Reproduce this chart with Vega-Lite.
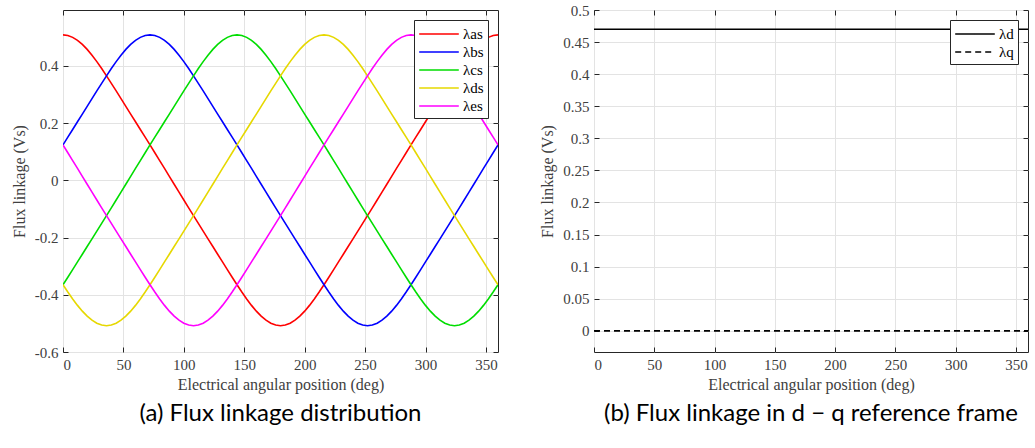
{
"$schema":"https://vega.github.io/schema/vega-lite/v6.json",
"background":"white",
"padding":{"left":10,"top":2,"right":0,"bottom":5},
"datasets":{
"phase":[
{"deg":0,"ph":"λas","flux":0.508},{"deg":4,"ph":"λas","flux":0.5058},{"deg":8,"ph":"λas","flux":0.4994},{"deg":12,"ph":"λas","flux":0.4889},{"deg":16,"ph":"λas","flux":0.4747},{"deg":20,"ph":"λas","flux":0.4573},{"deg":24,"ph":"λas","flux":0.4371},{"deg":28,"ph":"λas","flux":0.4146},{"deg":32,"ph":"λas","flux":0.3904},{"deg":36,"ph":"λas","flux":0.365},{"deg":40,"ph":"λas","flux":0.3388},{"deg":44,"ph":"λas","flux":0.3122},{"deg":48,"ph":"λas","flux":0.2853},{"deg":52,"ph":"λas","flux":0.2583},{"deg":56,"ph":"λas","flux":0.2314},{"deg":60,"ph":"λas","flux":0.2045},{"deg":64,"ph":"λas","flux":0.1776},{"deg":68,"ph":"λas","flux":0.1506},{"deg":72,"ph":"λas","flux":0.1235},{"deg":76,"ph":"λas","flux":0.0963},{"deg":80,"ph":"λas","flux":0.0689},{"deg":84,"ph":"λas","flux":0.0414},{"deg":88,"ph":"λas","flux":0.0138},{"deg":92,"ph":"λas","flux":-0.0138},{"deg":96,"ph":"λas","flux":-0.0414},{"deg":100,"ph":"λas","flux":-0.0689},{"deg":104,"ph":"λas","flux":-0.0963},{"deg":108,"ph":"λas","flux":-0.1235},{"deg":112,"ph":"λas","flux":-0.1506},{"deg":116,"ph":"λas","flux":-0.1776},{"deg":120,"ph":"λas","flux":-0.2045},{"deg":124,"ph":"λas","flux":-0.2314},{"deg":128,"ph":"λas","flux":-0.2583},{"deg":132,"ph":"λas","flux":-0.2853},{"deg":136,"ph":"λas","flux":-0.3122},{"deg":140,"ph":"λas","flux":-0.3388},{"deg":144,"ph":"λas","flux":-0.365},{"deg":148,"ph":"λas","flux":-0.3904},{"deg":152,"ph":"λas","flux":-0.4146},{"deg":156,"ph":"λas","flux":-0.4371},{"deg":160,"ph":"λas","flux":-0.4573},{"deg":164,"ph":"λas","flux":-0.4747},{"deg":168,"ph":"λas","flux":-0.4889},{"deg":172,"ph":"λas","flux":-0.4994},{"deg":176,"ph":"λas","flux":-0.5058},{"deg":180,"ph":"λas","flux":-0.508},{"deg":184,"ph":"λas","flux":-0.5058},{"deg":188,"ph":"λas","flux":-0.4994},{"deg":192,"ph":"λas","flux":-0.4889},{"deg":196,"ph":"λas","flux":-0.4747},{"deg":200,"ph":"λas","flux":-0.4573},{"deg":204,"ph":"λas","flux":-0.4371},{"deg":208,"ph":"λas","flux":-0.4146},{"deg":212,"ph":"λas","flux":-0.3904},{"deg":216,"ph":"λas","flux":-0.365},{"deg":220,"ph":"λas","flux":-0.3388},{"deg":224,"ph":"λas","flux":-0.3122},{"deg":228,"ph":"λas","flux":-0.2853},{"deg":232,"ph":"λas","flux":-0.2583},{"deg":236,"ph":"λas","flux":-0.2314},{"deg":240,"ph":"λas","flux":-0.2045},{"deg":244,"ph":"λas","flux":-0.1776},{"deg":248,"ph":"λas","flux":-0.1506},{"deg":252,"ph":"λas","flux":-0.1235},{"deg":256,"ph":"λas","flux":-0.0963},{"deg":260,"ph":"λas","flux":-0.0689},{"deg":264,"ph":"λas","flux":-0.0414},{"deg":268,"ph":"λas","flux":-0.0138},{"deg":272,"ph":"λas","flux":0.0138},{"deg":276,"ph":"λas","flux":0.0414},{"deg":280,"ph":"λas","flux":0.0689},{"deg":284,"ph":"λas","flux":0.0963},{"deg":288,"ph":"λas","flux":0.1235},{"deg":292,"ph":"λas","flux":0.1506},{"deg":296,"ph":"λas","flux":0.1776},{"deg":300,"ph":"λas","flux":0.2045},{"deg":304,"ph":"λas","flux":0.2314},{"deg":308,"ph":"λas","flux":0.2583},{"deg":312,"ph":"λas","flux":0.2853},{"deg":316,"ph":"λas","flux":0.3122},{"deg":320,"ph":"λas","flux":0.3388},{"deg":324,"ph":"λas","flux":0.365},{"deg":328,"ph":"λas","flux":0.3904},{"deg":332,"ph":"λas","flux":0.4146},{"deg":336,"ph":"λas","flux":0.4371},{"deg":340,"ph":"λas","flux":0.4573},{"deg":344,"ph":"λas","flux":0.4747},{"deg":348,"ph":"λas","flux":0.4889},{"deg":352,"ph":"λas","flux":0.4994},{"deg":356,"ph":"λas","flux":0.5058},{"deg":360,"ph":"λas","flux":0.508},
{"deg":0,"ph":"λbs","flux":0.1235},{"deg":4,"ph":"λbs","flux":0.1506},{"deg":8,"ph":"λbs","flux":0.1776},{"deg":12,"ph":"λbs","flux":0.2045},{"deg":16,"ph":"λbs","flux":0.2314},{"deg":20,"ph":"λbs","flux":0.2583},{"deg":24,"ph":"λbs","flux":0.2853},{"deg":28,"ph":"λbs","flux":0.3122},{"deg":32,"ph":"λbs","flux":0.3388},{"deg":36,"ph":"λbs","flux":0.365},{"deg":40,"ph":"λbs","flux":0.3904},{"deg":44,"ph":"λbs","flux":0.4146},{"deg":48,"ph":"λbs","flux":0.4371},{"deg":52,"ph":"λbs","flux":0.4573},{"deg":56,"ph":"λbs","flux":0.4747},{"deg":60,"ph":"λbs","flux":0.4889},{"deg":64,"ph":"λbs","flux":0.4994},{"deg":68,"ph":"λbs","flux":0.5058},{"deg":72,"ph":"λbs","flux":0.508},{"deg":76,"ph":"λbs","flux":0.5058},{"deg":80,"ph":"λbs","flux":0.4994},{"deg":84,"ph":"λbs","flux":0.4889},{"deg":88,"ph":"λbs","flux":0.4747},{"deg":92,"ph":"λbs","flux":0.4573},{"deg":96,"ph":"λbs","flux":0.4371},{"deg":100,"ph":"λbs","flux":0.4146},{"deg":104,"ph":"λbs","flux":0.3904},{"deg":108,"ph":"λbs","flux":0.365},{"deg":112,"ph":"λbs","flux":0.3388},{"deg":116,"ph":"λbs","flux":0.3122},{"deg":120,"ph":"λbs","flux":0.2853},{"deg":124,"ph":"λbs","flux":0.2583},{"deg":128,"ph":"λbs","flux":0.2314},{"deg":132,"ph":"λbs","flux":0.2045},{"deg":136,"ph":"λbs","flux":0.1776},{"deg":140,"ph":"λbs","flux":0.1506},{"deg":144,"ph":"λbs","flux":0.1235},{"deg":148,"ph":"λbs","flux":0.0963},{"deg":152,"ph":"λbs","flux":0.0689},{"deg":156,"ph":"λbs","flux":0.0414},{"deg":160,"ph":"λbs","flux":0.0138},{"deg":164,"ph":"λbs","flux":-0.0138},{"deg":168,"ph":"λbs","flux":-0.0414},{"deg":172,"ph":"λbs","flux":-0.0689},{"deg":176,"ph":"λbs","flux":-0.0963},{"deg":180,"ph":"λbs","flux":-0.1235},{"deg":184,"ph":"λbs","flux":-0.1506},{"deg":188,"ph":"λbs","flux":-0.1776},{"deg":192,"ph":"λbs","flux":-0.2045},{"deg":196,"ph":"λbs","flux":-0.2314},{"deg":200,"ph":"λbs","flux":-0.2583},{"deg":204,"ph":"λbs","flux":-0.2853},{"deg":208,"ph":"λbs","flux":-0.3122},{"deg":212,"ph":"λbs","flux":-0.3388},{"deg":216,"ph":"λbs","flux":-0.365},{"deg":220,"ph":"λbs","flux":-0.3904},{"deg":224,"ph":"λbs","flux":-0.4146},{"deg":228,"ph":"λbs","flux":-0.4371},{"deg":232,"ph":"λbs","flux":-0.4573},{"deg":236,"ph":"λbs","flux":-0.4747},{"deg":240,"ph":"λbs","flux":-0.4889},{"deg":244,"ph":"λbs","flux":-0.4994},{"deg":248,"ph":"λbs","flux":-0.5058},{"deg":252,"ph":"λbs","flux":-0.508},{"deg":256,"ph":"λbs","flux":-0.5058},{"deg":260,"ph":"λbs","flux":-0.4994},{"deg":264,"ph":"λbs","flux":-0.4889},{"deg":268,"ph":"λbs","flux":-0.4747},{"deg":272,"ph":"λbs","flux":-0.4573},{"deg":276,"ph":"λbs","flux":-0.4371},{"deg":280,"ph":"λbs","flux":-0.4146},{"deg":284,"ph":"λbs","flux":-0.3904},{"deg":288,"ph":"λbs","flux":-0.365},{"deg":292,"ph":"λbs","flux":-0.3388},{"deg":296,"ph":"λbs","flux":-0.3122},{"deg":300,"ph":"λbs","flux":-0.2853},{"deg":304,"ph":"λbs","flux":-0.2583},{"deg":308,"ph":"λbs","flux":-0.2314},{"deg":312,"ph":"λbs","flux":-0.2045},{"deg":316,"ph":"λbs","flux":-0.1776},{"deg":320,"ph":"λbs","flux":-0.1506},{"deg":324,"ph":"λbs","flux":-0.1235},{"deg":328,"ph":"λbs","flux":-0.0963},{"deg":332,"ph":"λbs","flux":-0.0689},{"deg":336,"ph":"λbs","flux":-0.0414},{"deg":340,"ph":"λbs","flux":-0.0138},{"deg":344,"ph":"λbs","flux":0.0138},{"deg":348,"ph":"λbs","flux":0.0414},{"deg":352,"ph":"λbs","flux":0.0689},{"deg":356,"ph":"λbs","flux":0.0963},{"deg":360,"ph":"λbs","flux":0.1235},
{"deg":0,"ph":"λcs","flux":-0.365},{"deg":4,"ph":"λcs","flux":-0.3388},{"deg":8,"ph":"λcs","flux":-0.3122},{"deg":12,"ph":"λcs","flux":-0.2853},{"deg":16,"ph":"λcs","flux":-0.2583},{"deg":20,"ph":"λcs","flux":-0.2314},{"deg":24,"ph":"λcs","flux":-0.2045},{"deg":28,"ph":"λcs","flux":-0.1776},{"deg":32,"ph":"λcs","flux":-0.1506},{"deg":36,"ph":"λcs","flux":-0.1235},{"deg":40,"ph":"λcs","flux":-0.0963},{"deg":44,"ph":"λcs","flux":-0.0689},{"deg":48,"ph":"λcs","flux":-0.0414},{"deg":52,"ph":"λcs","flux":-0.0138},{"deg":56,"ph":"λcs","flux":0.0138},{"deg":60,"ph":"λcs","flux":0.0414},{"deg":64,"ph":"λcs","flux":0.0689},{"deg":68,"ph":"λcs","flux":0.0963},{"deg":72,"ph":"λcs","flux":0.1235},{"deg":76,"ph":"λcs","flux":0.1506},{"deg":80,"ph":"λcs","flux":0.1776},{"deg":84,"ph":"λcs","flux":0.2045},{"deg":88,"ph":"λcs","flux":0.2314},{"deg":92,"ph":"λcs","flux":0.2583},{"deg":96,"ph":"λcs","flux":0.2853},{"deg":100,"ph":"λcs","flux":0.3122},{"deg":104,"ph":"λcs","flux":0.3388},{"deg":108,"ph":"λcs","flux":0.365},{"deg":112,"ph":"λcs","flux":0.3904},{"deg":116,"ph":"λcs","flux":0.4146},{"deg":120,"ph":"λcs","flux":0.4371},{"deg":124,"ph":"λcs","flux":0.4573},{"deg":128,"ph":"λcs","flux":0.4747},{"deg":132,"ph":"λcs","flux":0.4889},{"deg":136,"ph":"λcs","flux":0.4994},{"deg":140,"ph":"λcs","flux":0.5058},{"deg":144,"ph":"λcs","flux":0.508},{"deg":148,"ph":"λcs","flux":0.5058},{"deg":152,"ph":"λcs","flux":0.4994},{"deg":156,"ph":"λcs","flux":0.4889},{"deg":160,"ph":"λcs","flux":0.4747},{"deg":164,"ph":"λcs","flux":0.4573},{"deg":168,"ph":"λcs","flux":0.4371},{"deg":172,"ph":"λcs","flux":0.4146},{"deg":176,"ph":"λcs","flux":0.3904},{"deg":180,"ph":"λcs","flux":0.365},{"deg":184,"ph":"λcs","flux":0.3388},{"deg":188,"ph":"λcs","flux":0.3122},{"deg":192,"ph":"λcs","flux":0.2853},{"deg":196,"ph":"λcs","flux":0.2583},{"deg":200,"ph":"λcs","flux":0.2314},{"deg":204,"ph":"λcs","flux":0.2045},{"deg":208,"ph":"λcs","flux":0.1776},{"deg":212,"ph":"λcs","flux":0.1506},{"deg":216,"ph":"λcs","flux":0.1235},{"deg":220,"ph":"λcs","flux":0.0963},{"deg":224,"ph":"λcs","flux":0.0689},{"deg":228,"ph":"λcs","flux":0.0414},{"deg":232,"ph":"λcs","flux":0.0138},{"deg":236,"ph":"λcs","flux":-0.0138},{"deg":240,"ph":"λcs","flux":-0.0414},{"deg":244,"ph":"λcs","flux":-0.0689},{"deg":248,"ph":"λcs","flux":-0.0963},{"deg":252,"ph":"λcs","flux":-0.1235},{"deg":256,"ph":"λcs","flux":-0.1506},{"deg":260,"ph":"λcs","flux":-0.1776},{"deg":264,"ph":"λcs","flux":-0.2045},{"deg":268,"ph":"λcs","flux":-0.2314},{"deg":272,"ph":"λcs","flux":-0.2583},{"deg":276,"ph":"λcs","flux":-0.2853},{"deg":280,"ph":"λcs","flux":-0.3122},{"deg":284,"ph":"λcs","flux":-0.3388},{"deg":288,"ph":"λcs","flux":-0.365},{"deg":292,"ph":"λcs","flux":-0.3904},{"deg":296,"ph":"λcs","flux":-0.4146},{"deg":300,"ph":"λcs","flux":-0.4371},{"deg":304,"ph":"λcs","flux":-0.4573},{"deg":308,"ph":"λcs","flux":-0.4747},{"deg":312,"ph":"λcs","flux":-0.4889},{"deg":316,"ph":"λcs","flux":-0.4994},{"deg":320,"ph":"λcs","flux":-0.5058},{"deg":324,"ph":"λcs","flux":-0.508},{"deg":328,"ph":"λcs","flux":-0.5058},{"deg":332,"ph":"λcs","flux":-0.4994},{"deg":336,"ph":"λcs","flux":-0.4889},{"deg":340,"ph":"λcs","flux":-0.4747},{"deg":344,"ph":"λcs","flux":-0.4573},{"deg":348,"ph":"λcs","flux":-0.4371},{"deg":352,"ph":"λcs","flux":-0.4146},{"deg":356,"ph":"λcs","flux":-0.3904},{"deg":360,"ph":"λcs","flux":-0.365},
{"deg":0,"ph":"λds","flux":-0.365},{"deg":4,"ph":"λds","flux":-0.3904},{"deg":8,"ph":"λds","flux":-0.4146},{"deg":12,"ph":"λds","flux":-0.4371},{"deg":16,"ph":"λds","flux":-0.4573},{"deg":20,"ph":"λds","flux":-0.4747},{"deg":24,"ph":"λds","flux":-0.4889},{"deg":28,"ph":"λds","flux":-0.4994},{"deg":32,"ph":"λds","flux":-0.5058},{"deg":36,"ph":"λds","flux":-0.508},{"deg":40,"ph":"λds","flux":-0.5058},{"deg":44,"ph":"λds","flux":-0.4994},{"deg":48,"ph":"λds","flux":-0.4889},{"deg":52,"ph":"λds","flux":-0.4747},{"deg":56,"ph":"λds","flux":-0.4573},{"deg":60,"ph":"λds","flux":-0.4371},{"deg":64,"ph":"λds","flux":-0.4146},{"deg":68,"ph":"λds","flux":-0.3904},{"deg":72,"ph":"λds","flux":-0.365},{"deg":76,"ph":"λds","flux":-0.3388},{"deg":80,"ph":"λds","flux":-0.3122},{"deg":84,"ph":"λds","flux":-0.2853},{"deg":88,"ph":"λds","flux":-0.2583},{"deg":92,"ph":"λds","flux":-0.2314},{"deg":96,"ph":"λds","flux":-0.2045},{"deg":100,"ph":"λds","flux":-0.1776},{"deg":104,"ph":"λds","flux":-0.1506},{"deg":108,"ph":"λds","flux":-0.1235},{"deg":112,"ph":"λds","flux":-0.0963},{"deg":116,"ph":"λds","flux":-0.0689},{"deg":120,"ph":"λds","flux":-0.0414},{"deg":124,"ph":"λds","flux":-0.0138},{"deg":128,"ph":"λds","flux":0.0138},{"deg":132,"ph":"λds","flux":0.0414},{"deg":136,"ph":"λds","flux":0.0689},{"deg":140,"ph":"λds","flux":0.0963},{"deg":144,"ph":"λds","flux":0.1235},{"deg":148,"ph":"λds","flux":0.1506},{"deg":152,"ph":"λds","flux":0.1776},{"deg":156,"ph":"λds","flux":0.2045},{"deg":160,"ph":"λds","flux":0.2314},{"deg":164,"ph":"λds","flux":0.2583},{"deg":168,"ph":"λds","flux":0.2853},{"deg":172,"ph":"λds","flux":0.3122},{"deg":176,"ph":"λds","flux":0.3388},{"deg":180,"ph":"λds","flux":0.365},{"deg":184,"ph":"λds","flux":0.3904},{"deg":188,"ph":"λds","flux":0.4146},{"deg":192,"ph":"λds","flux":0.4371},{"deg":196,"ph":"λds","flux":0.4573},{"deg":200,"ph":"λds","flux":0.4747},{"deg":204,"ph":"λds","flux":0.4889},{"deg":208,"ph":"λds","flux":0.4994},{"deg":212,"ph":"λds","flux":0.5058},{"deg":216,"ph":"λds","flux":0.508},{"deg":220,"ph":"λds","flux":0.5058},{"deg":224,"ph":"λds","flux":0.4994},{"deg":228,"ph":"λds","flux":0.4889},{"deg":232,"ph":"λds","flux":0.4747},{"deg":236,"ph":"λds","flux":0.4573},{"deg":240,"ph":"λds","flux":0.4371},{"deg":244,"ph":"λds","flux":0.4146},{"deg":248,"ph":"λds","flux":0.3904},{"deg":252,"ph":"λds","flux":0.365},{"deg":256,"ph":"λds","flux":0.3388},{"deg":260,"ph":"λds","flux":0.3122},{"deg":264,"ph":"λds","flux":0.2853},{"deg":268,"ph":"λds","flux":0.2583},{"deg":272,"ph":"λds","flux":0.2314},{"deg":276,"ph":"λds","flux":0.2045},{"deg":280,"ph":"λds","flux":0.1776},{"deg":284,"ph":"λds","flux":0.1506},{"deg":288,"ph":"λds","flux":0.1235},{"deg":292,"ph":"λds","flux":0.0963},{"deg":296,"ph":"λds","flux":0.0689},{"deg":300,"ph":"λds","flux":0.0414},{"deg":304,"ph":"λds","flux":0.0138},{"deg":308,"ph":"λds","flux":-0.0138},{"deg":312,"ph":"λds","flux":-0.0414},{"deg":316,"ph":"λds","flux":-0.0689},{"deg":320,"ph":"λds","flux":-0.0963},{"deg":324,"ph":"λds","flux":-0.1235},{"deg":328,"ph":"λds","flux":-0.1506},{"deg":332,"ph":"λds","flux":-0.1776},{"deg":336,"ph":"λds","flux":-0.2045},{"deg":340,"ph":"λds","flux":-0.2314},{"deg":344,"ph":"λds","flux":-0.2583},{"deg":348,"ph":"λds","flux":-0.2853},{"deg":352,"ph":"λds","flux":-0.3122},{"deg":356,"ph":"λds","flux":-0.3388},{"deg":360,"ph":"λds","flux":-0.365},
{"deg":0,"ph":"λes","flux":0.1235},{"deg":4,"ph":"λes","flux":0.0963},{"deg":8,"ph":"λes","flux":0.0689},{"deg":12,"ph":"λes","flux":0.0414},{"deg":16,"ph":"λes","flux":0.0138},{"deg":20,"ph":"λes","flux":-0.0138},{"deg":24,"ph":"λes","flux":-0.0414},{"deg":28,"ph":"λes","flux":-0.0689},{"deg":32,"ph":"λes","flux":-0.0963},{"deg":36,"ph":"λes","flux":-0.1235},{"deg":40,"ph":"λes","flux":-0.1506},{"deg":44,"ph":"λes","flux":-0.1776},{"deg":48,"ph":"λes","flux":-0.2045},{"deg":52,"ph":"λes","flux":-0.2314},{"deg":56,"ph":"λes","flux":-0.2583},{"deg":60,"ph":"λes","flux":-0.2853},{"deg":64,"ph":"λes","flux":-0.3122},{"deg":68,"ph":"λes","flux":-0.3388},{"deg":72,"ph":"λes","flux":-0.365},{"deg":76,"ph":"λes","flux":-0.3904},{"deg":80,"ph":"λes","flux":-0.4146},{"deg":84,"ph":"λes","flux":-0.4371},{"deg":88,"ph":"λes","flux":-0.4573},{"deg":92,"ph":"λes","flux":-0.4747},{"deg":96,"ph":"λes","flux":-0.4889},{"deg":100,"ph":"λes","flux":-0.4994},{"deg":104,"ph":"λes","flux":-0.5058},{"deg":108,"ph":"λes","flux":-0.508},{"deg":112,"ph":"λes","flux":-0.5058},{"deg":116,"ph":"λes","flux":-0.4994},{"deg":120,"ph":"λes","flux":-0.4889},{"deg":124,"ph":"λes","flux":-0.4747},{"deg":128,"ph":"λes","flux":-0.4573},{"deg":132,"ph":"λes","flux":-0.4371},{"deg":136,"ph":"λes","flux":-0.4146},{"deg":140,"ph":"λes","flux":-0.3904},{"deg":144,"ph":"λes","flux":-0.365},{"deg":148,"ph":"λes","flux":-0.3388},{"deg":152,"ph":"λes","flux":-0.3122},{"deg":156,"ph":"λes","flux":-0.2853},{"deg":160,"ph":"λes","flux":-0.2583},{"deg":164,"ph":"λes","flux":-0.2314},{"deg":168,"ph":"λes","flux":-0.2045},{"deg":172,"ph":"λes","flux":-0.1776},{"deg":176,"ph":"λes","flux":-0.1506},{"deg":180,"ph":"λes","flux":-0.1235},{"deg":184,"ph":"λes","flux":-0.0963},{"deg":188,"ph":"λes","flux":-0.0689},{"deg":192,"ph":"λes","flux":-0.0414},{"deg":196,"ph":"λes","flux":-0.0138},{"deg":200,"ph":"λes","flux":0.0138},{"deg":204,"ph":"λes","flux":0.0414},{"deg":208,"ph":"λes","flux":0.0689},{"deg":212,"ph":"λes","flux":0.0963},{"deg":216,"ph":"λes","flux":0.1235},{"deg":220,"ph":"λes","flux":0.1506},{"deg":224,"ph":"λes","flux":0.1776},{"deg":228,"ph":"λes","flux":0.2045},{"deg":232,"ph":"λes","flux":0.2314},{"deg":236,"ph":"λes","flux":0.2583},{"deg":240,"ph":"λes","flux":0.2853},{"deg":244,"ph":"λes","flux":0.3122},{"deg":248,"ph":"λes","flux":0.3388},{"deg":252,"ph":"λes","flux":0.365},{"deg":256,"ph":"λes","flux":0.3904},{"deg":260,"ph":"λes","flux":0.4146},{"deg":264,"ph":"λes","flux":0.4371},{"deg":268,"ph":"λes","flux":0.4573},{"deg":272,"ph":"λes","flux":0.4747},{"deg":276,"ph":"λes","flux":0.4889},{"deg":280,"ph":"λes","flux":0.4994},{"deg":284,"ph":"λes","flux":0.5058},{"deg":288,"ph":"λes","flux":0.508},{"deg":292,"ph":"λes","flux":0.5058},{"deg":296,"ph":"λes","flux":0.4994},{"deg":300,"ph":"λes","flux":0.4889},{"deg":304,"ph":"λes","flux":0.4747},{"deg":308,"ph":"λes","flux":0.4573},{"deg":312,"ph":"λes","flux":0.4371},{"deg":316,"ph":"λes","flux":0.4146},{"deg":320,"ph":"λes","flux":0.3904},{"deg":324,"ph":"λes","flux":0.365},{"deg":328,"ph":"λes","flux":0.3388},{"deg":332,"ph":"λes","flux":0.3122},{"deg":336,"ph":"λes","flux":0.2853},{"deg":340,"ph":"λes","flux":0.2583},{"deg":344,"ph":"λes","flux":0.2314},{"deg":348,"ph":"λes","flux":0.2045},{"deg":352,"ph":"λes","flux":0.1776},{"deg":356,"ph":"λes","flux":0.1506},{"deg":360,"ph":"λes","flux":0.1235}
],
"dq":[
{"deg":0,"comp":"λd","flux":0.47},{"deg":30,"comp":"λd","flux":0.47},{"deg":60,"comp":"λd","flux":0.47},{"deg":90,"comp":"λd","flux":0.47},{"deg":120,"comp":"λd","flux":0.47},{"deg":150,"comp":"λd","flux":0.47},{"deg":180,"comp":"λd","flux":0.47},{"deg":210,"comp":"λd","flux":0.47},{"deg":240,"comp":"λd","flux":0.47},{"deg":270,"comp":"λd","flux":0.47},{"deg":300,"comp":"λd","flux":0.47},{"deg":330,"comp":"λd","flux":0.47},{"deg":360,"comp":"λd","flux":0.47},
{"deg":0,"comp":"λq","flux":0},{"deg":90,"comp":"λq","flux":0},{"deg":180,"comp":"λq","flux":0},{"deg":270,"comp":"λq","flux":0},{"deg":360,"comp":"λq","flux":0}
]
},
"config":{
"font":"Liberation Serif",
"view":{"stroke":"#262626","strokeWidth":1},
"axis":{"labelFont":"Liberation Serif","labelFontSize":15,"labelColor":"#404040","titleFont":"Liberation Serif","titleFontSize":16,"titleFontWeight":"normal","titleColor":"#404040","domain":false,"ticks":true,"tickSize":-5,"tickColor":"#262626","labelPadding":10,"gridColor":"#e3e3e3","gridWidth":1,"titlePadding":4},
"axisY":{"titlePadding":7},
"legend":{"orient":"top-right","offset":10,"fillColor":"white","strokeColor":"#262626","padding":4,"labelFont":"Liberation Serif","labelFontSize":15,"labelColor":"#000","symbolType":"M-2.2,0H2.2","symbolSize":324,"symbolOffset":11,"symbolStrokeWidth":1.6,"rowPadding":0,"labelOffset":14},
"title":{"orient":"bottom","font":"Lato","fontSize":24,"fontWeight":"normal","color":"#000","offset":10,"anchor":"middle"}
},
"spacing":37,
"resolve":{"scale":{"color":"independent","strokeDash":"independent","y":"independent"},"legend":{"color":"independent","strokeDash":"independent"}},
"hconcat":[
{"width":435,"height":342,"data":{"name":"phase"},
"title":{"text":"(a) Flux linkage distribution"},
"resolve":{"axis":{"x":"independent","y":"independent"}},
"layer":[
{"mark":{"type":"line","strokeWidth":1.6,"clip":true},
"encoding":{
"x":{"field":"deg","type":"quantitative","scale":{"domain":[0,360],"nice":false},"axis":{"values":[0,50,100,150,200,250,300,350],"title":"Electrical angular position (deg)","labelFont":"Liberation Serif"}},
"y":{"field":"flux","type":"quantitative","scale":{"domain":[-0.6,0.595],"nice":false,"zero":false},"axis":{"values":[-0.6,-0.4,-0.2,0,0.2,0.4],"title":"Flux linkage (Vs)","labelFont":"Liberation Serif","labelExpr":"replace(format(datum.value,'~g'),'−','-')"}},
"color":{"field":"ph","type":"nominal","scale":{"domain":["λas","λbs","λcs","λds","λes"],"range":["#ff0000","#0000ff","#00dd00","#e6d800","#ff00ff"]},"legend":{"title":null}}
}},
{"mark":{"type":"point","opacity":0},
"encoding":{
"x":{"field":"deg","type":"quantitative","axis":{"orient":"top","values":[0,50,100,150,200,250,300,350],"labels":false,"grid":false,"title":null}},
"y":{"field":"flux","type":"quantitative","axis":{"orient":"right","values":[-0.6,-0.4,-0.2,0,0.2,0.4],"labels":false,"grid":false,"title":null}}
}}
]},
{"width":434,"height":342,"data":{"name":"dq"},
"title":{"text":"(b) Flux linkage in d − q reference frame"},
"resolve":{"axis":{"x":"independent","y":"independent"}},
"layer":[
{"mark":{"type":"line","strokeWidth":1.6,"clip":true},
"encoding":{
"x":{"field":"deg","type":"quantitative","scale":{"domain":[0,360],"nice":false},"axis":{"values":[0,50,100,150,200,250,300,350],"title":"Electrical angular position (deg)","labelFont":"Liberation Serif"}},
"y":{"field":"flux","type":"quantitative","scale":{"domain":[-0.033,0.5],"nice":false,"zero":false},"axis":{"values":[0,0.05,0.1,0.15,0.2,0.25,0.3,0.35,0.4,0.45,0.5],"title":"Flux linkage (Vs)","labelFont":"Liberation Serif","labelExpr":"format(datum.value,'~g')"}},
"color":{"field":"comp","type":"nominal","scale":{"domain":["λd","λq"],"range":["#000000","#000000"]},"legend":{"title":null}},
"strokeDash":{"field":"comp","type":"nominal","scale":{"domain":["λd","λq"],"range":[[1,0],[6,4]]},"legend":{"title":null}}
}},
{"mark":{"type":"point","opacity":0},
"encoding":{
"x":{"field":"deg","type":"quantitative","axis":{"orient":"top","values":[0,50,100,150,200,250,300,350],"labels":false,"grid":false,"title":null}},
"y":{"field":"flux","type":"quantitative","axis":{"orient":"right","values":[0,0.05,0.1,0.15,0.2,0.25,0.3,0.35,0.4,0.45,0.5],"labels":false,"grid":false,"title":null}}
}}
]}
]
}
